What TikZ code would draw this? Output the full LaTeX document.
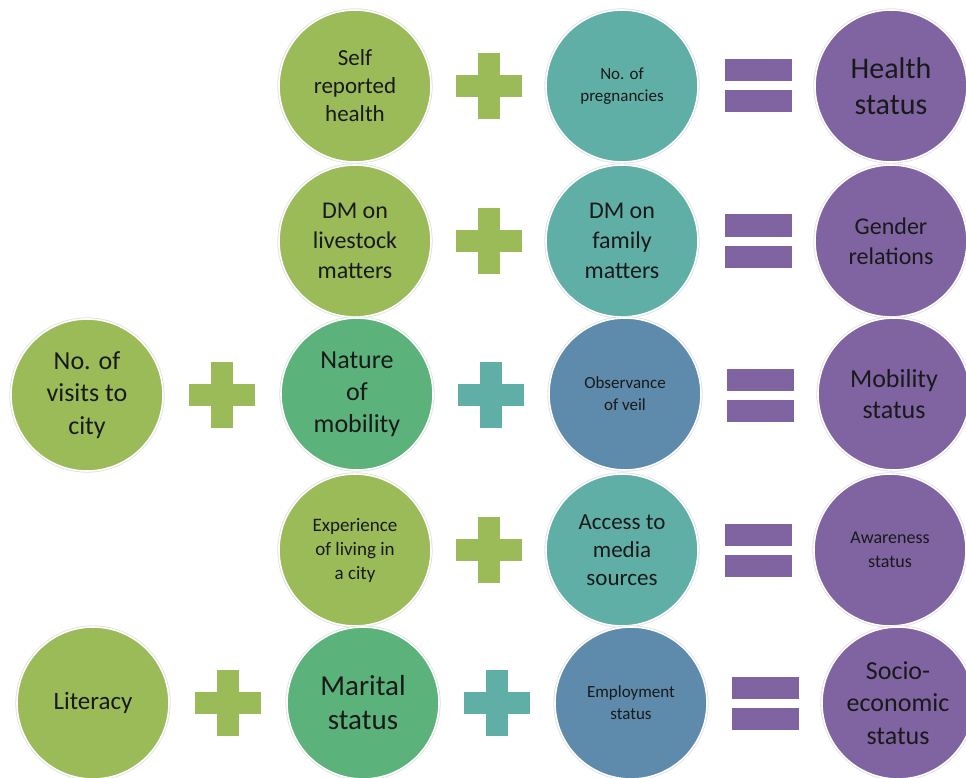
\documentclass[tikz,border=0pt]{standalone}
\usepackage{fontspec}
\setmainfont{Carlito}
\definecolor{olive}{HTML}{9BBB59}
\definecolor{mgreen}{HTML}{5CB27B}
\definecolor{teal2}{HTML}{60AFA7}
\definecolor{steel}{HTML}{5E8BAC}
\definecolor{purp}{HTML}{8064A2}
\newcommand\fs[2]{\fontsize{#1}{#2}\selectfont}
\tikzset{
  bub/.style={circle, minimum size=152pt, inner sep=0pt, align=center,
    fill=#1, draw=white, line width=1.6pt, text=black!90,
    preaction={draw=black!12, line width=3.2pt}},
  pics/plussym/.style={code={
    \fill[#1] (-33,-11) rectangle (33,11);
    \fill[#1] (-11,-33) rectangle (11,33);}},
  pics/eqsym/.style={code={
    \fill[purp] (-33.5,-26.5) rectangle (33.5,-4.5);
    \fill[purp] (-33.5,4.5) rectangle (33.5,26.5);}}
}
\begin{document}
\begin{tikzpicture}[x=1pt,y=-1pt]
\useasboundingbox (0,0) rectangle (966,778);
% Row 1
\node[bub=olive, font=\fs{23}{28}] (a1) at (355,86) {Self\\reported\\health};
\pic at (489,86) {plussym=olive};
\node[bub=teal2, font=\fs{17}{22}] (b1) at (622,86) {No. of\\pregnancies};
\pic at (758,86) {eqsym};
\node[bub=purp, font=\fs{30}{36}] (c1) at (891,86) {Health\\status};
% Row 2
\node[bub=olive, font=\fs{24}{30}] (a2) at (355,241) {DM on\\livestock\\matters};
\pic at (489,241) {plussym=olive};
\node[bub=teal2, font=\fs{24}{30}] (b2) at (622,241) {DM on\\family\\matters};
\pic at (758,241) {eqsym};
\node[bub=purp, font=\fs{24}{30}] (c2) at (891,241) {Gender\\relations};
% Row 3
\node[bub=olive, font=\fs{26}{32.5}] (l3) at (87,395) {No. of\\visits to\\city};
\pic at (222,395) {plussym=olive};
\node[bub=mgreen, font=\fs{26}{32}] (a3) at (357,394) {Nature\\of\\mobility};
\pic at (491,395) {plussym=teal2};
\node[bub=steel, font=\fs{17}{22}] (b3) at (625,394) {Observance\\of veil};
\pic at (760,395) {eqsym};
\node[bub=purp, font=\fs{26}{31}] (c3) at (894,394) {Mobility\\status};
% Row 4
\node[bub=olive, font=\fs{19}{24}] (a4) at (355,550) {Experience\\of living in\\a city};
\pic at (489,550) {plussym=olive};
\node[bub=teal2, font=\fs{23}{28}] (b4) at (622,550) {Access to\\media\\sources};
\pic at (758,550) {eqsym};
\node[bub=purp, font=\fs{18}{24}] (c4) at (890,550) {Awareness\\status};
% Row 5
\node[bub=olive, font=\fs{25}{30}] (l5) at (93,703) {Literacy};
\pic at (228,703) {plussym=olive};
\node[bub=mgreen, font=\fs{29}{34}] (a5) at (363,703) {Marital\\status};
\pic at (497,703) {plussym=teal2};
\node[bub=steel, font=\fs{17}{22}] (b5) at (631,703) {Employment\\status};
\pic at (765,703) {eqsym};
\node[bub=purp, font=\fs{26}{32.5}] (c5) at (898,703) {Socio-\\economic\\status};
\end{tikzpicture}
\end{document}
